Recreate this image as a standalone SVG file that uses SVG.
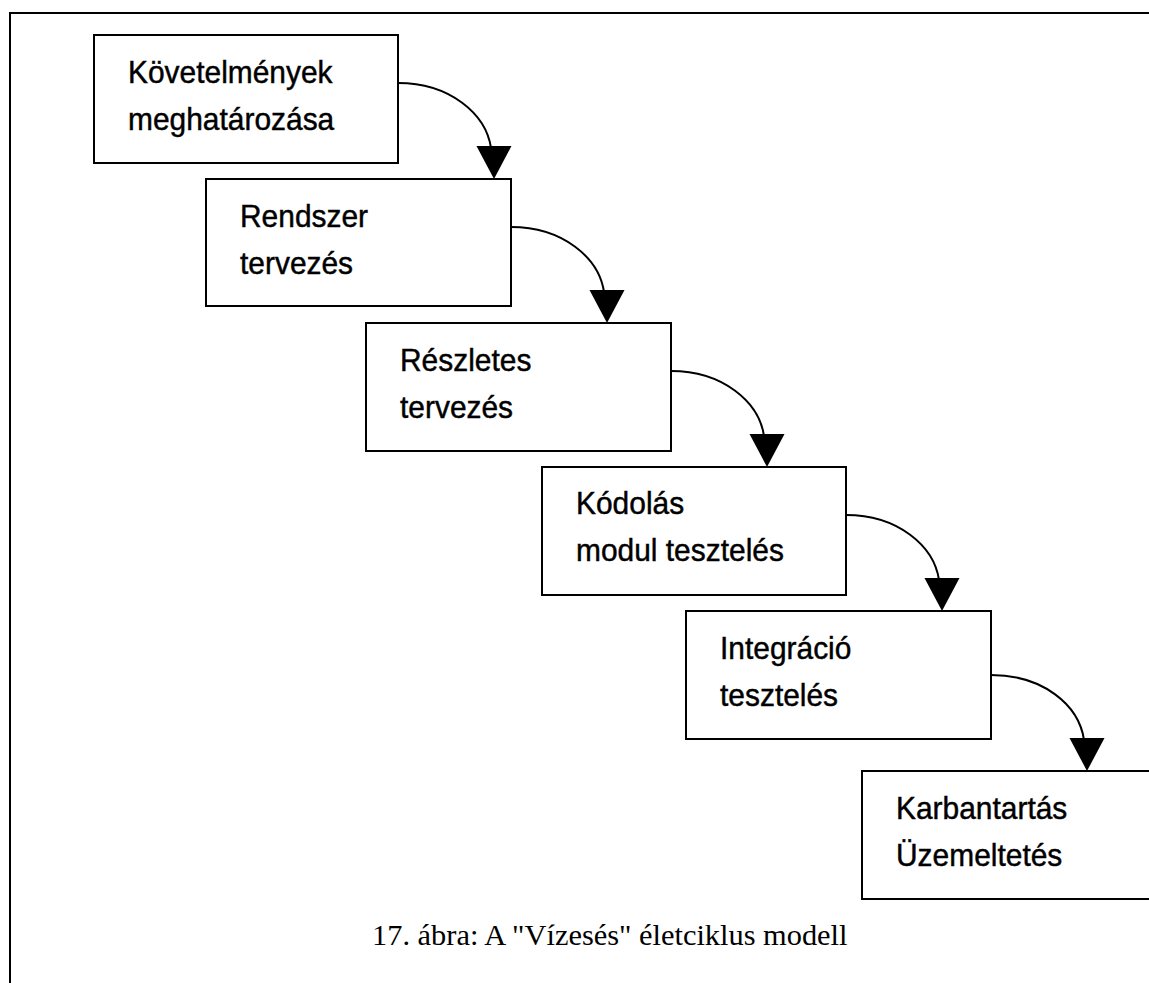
<svg xmlns="http://www.w3.org/2000/svg" width="1149" height="983" viewBox="0 0 1149 983">
  <defs>
    <style>
      .frame { fill: none; stroke: #000; stroke-width: 2; }
      .box { fill: #fff; stroke: #000; stroke-width: 2; }
      .label { font-family: "Liberation Sans", Arial, sans-serif; font-size: 31.5px; fill: #000; stroke: #000; stroke-width: 0.45px; }
      .edge { fill: none; stroke: #000; stroke-width: 2; }
      .head { fill: #000; stroke: none; }
      .caption { font-family: "Liberation Serif", "Times New Roman", serif; font-size: 30.4px; fill: #000; }
    </style>
  </defs>

  <rect width="1149" height="983" fill="#fff"/>

  <!-- page frame: top and left rules -->
  <path class="frame" d="M10,983 V13 H1149"/>

  <!-- phase boxes; labels are set slightly condensed -->
  <g id="node-kovetelmenyek">
    <rect class="box" x="94" y="35" width="304" height="128"/>
    <text class="label" transform="matrix(0.95 0 0 1 128 83)">Követelmények</text>
    <text class="label" transform="matrix(0.95 0 0 1 128 130)">meghatározása</text>
  </g>
  <g id="node-rendszer">
    <rect class="box" x="206" y="179" width="305" height="127"/>
    <text class="label" transform="matrix(0.95 0 0 1 240 227)">Rendszer</text>
    <text class="label" transform="matrix(0.95 0 0 1 240 274)">tervezés</text>
  </g>
  <g id="node-reszletes">
    <rect class="box" x="366" y="323" width="305" height="128"/>
    <text class="label" transform="matrix(0.95 0 0 1 400 371)">Részletes</text>
    <text class="label" transform="matrix(0.95 0 0 1 400 418)">tervezés</text>
  </g>
  <g id="node-kodolas">
    <rect class="box" x="542" y="467" width="304" height="128"/>
    <text class="label" transform="matrix(0.95 0 0 1 576 514)">Kódolás</text>
    <text class="label" transform="matrix(0.95 0 0 1 576 561)">modul tesztelés</text>
  </g>
  <g id="node-integracio">
    <rect class="box" x="686" y="611" width="305" height="128"/>
    <text class="label" transform="matrix(0.95 0 0 1 720 659)">Integráció</text>
    <text class="label" transform="matrix(0.95 0 0 1 720 706)">tesztelés</text>
  </g>
  <g id="node-karbantartas">
    <rect class="box" x="862" y="771" width="305" height="128"/>
    <text class="label" transform="matrix(0.95 0 0 1 896 819)">Karbantartás</text>
    <text class="label" transform="matrix(0.95 0 0 1 896 866)">Üzemeltetés</text>
  </g>

  <!-- curved connectors with solid triangular heads -->
  <g id="connectors">
    <path class="edge" d="M398,83 C450,83 486,114 491,148"/>
    <polygon class="head" points="476.5,146 511.5,146 494,179"/>

    <path class="edge" d="M511,227 C563,227 599,258 604,292"/>
    <polygon class="head" points="589.5,290 624.5,290 607,323"/>

    <path class="edge" d="M671,371 C723,371 759,402 764,436"/>
    <polygon class="head" points="749.5,434 784.5,434 767,467"/>

    <path class="edge" d="M846,515 C898,515 934,546 939,580"/>
    <polygon class="head" points="924.5,578 959.5,578 942,611"/>

    <path class="edge" d="M991,675 C1043,675 1079,705 1084,740"/>
    <polygon class="head" points="1069.5,738 1104.5,738 1087,771"/>
  </g>

  <text class="caption" x="372" y="945">17. ábra: A "Vízesés" életciklus modell</text>
</svg>
